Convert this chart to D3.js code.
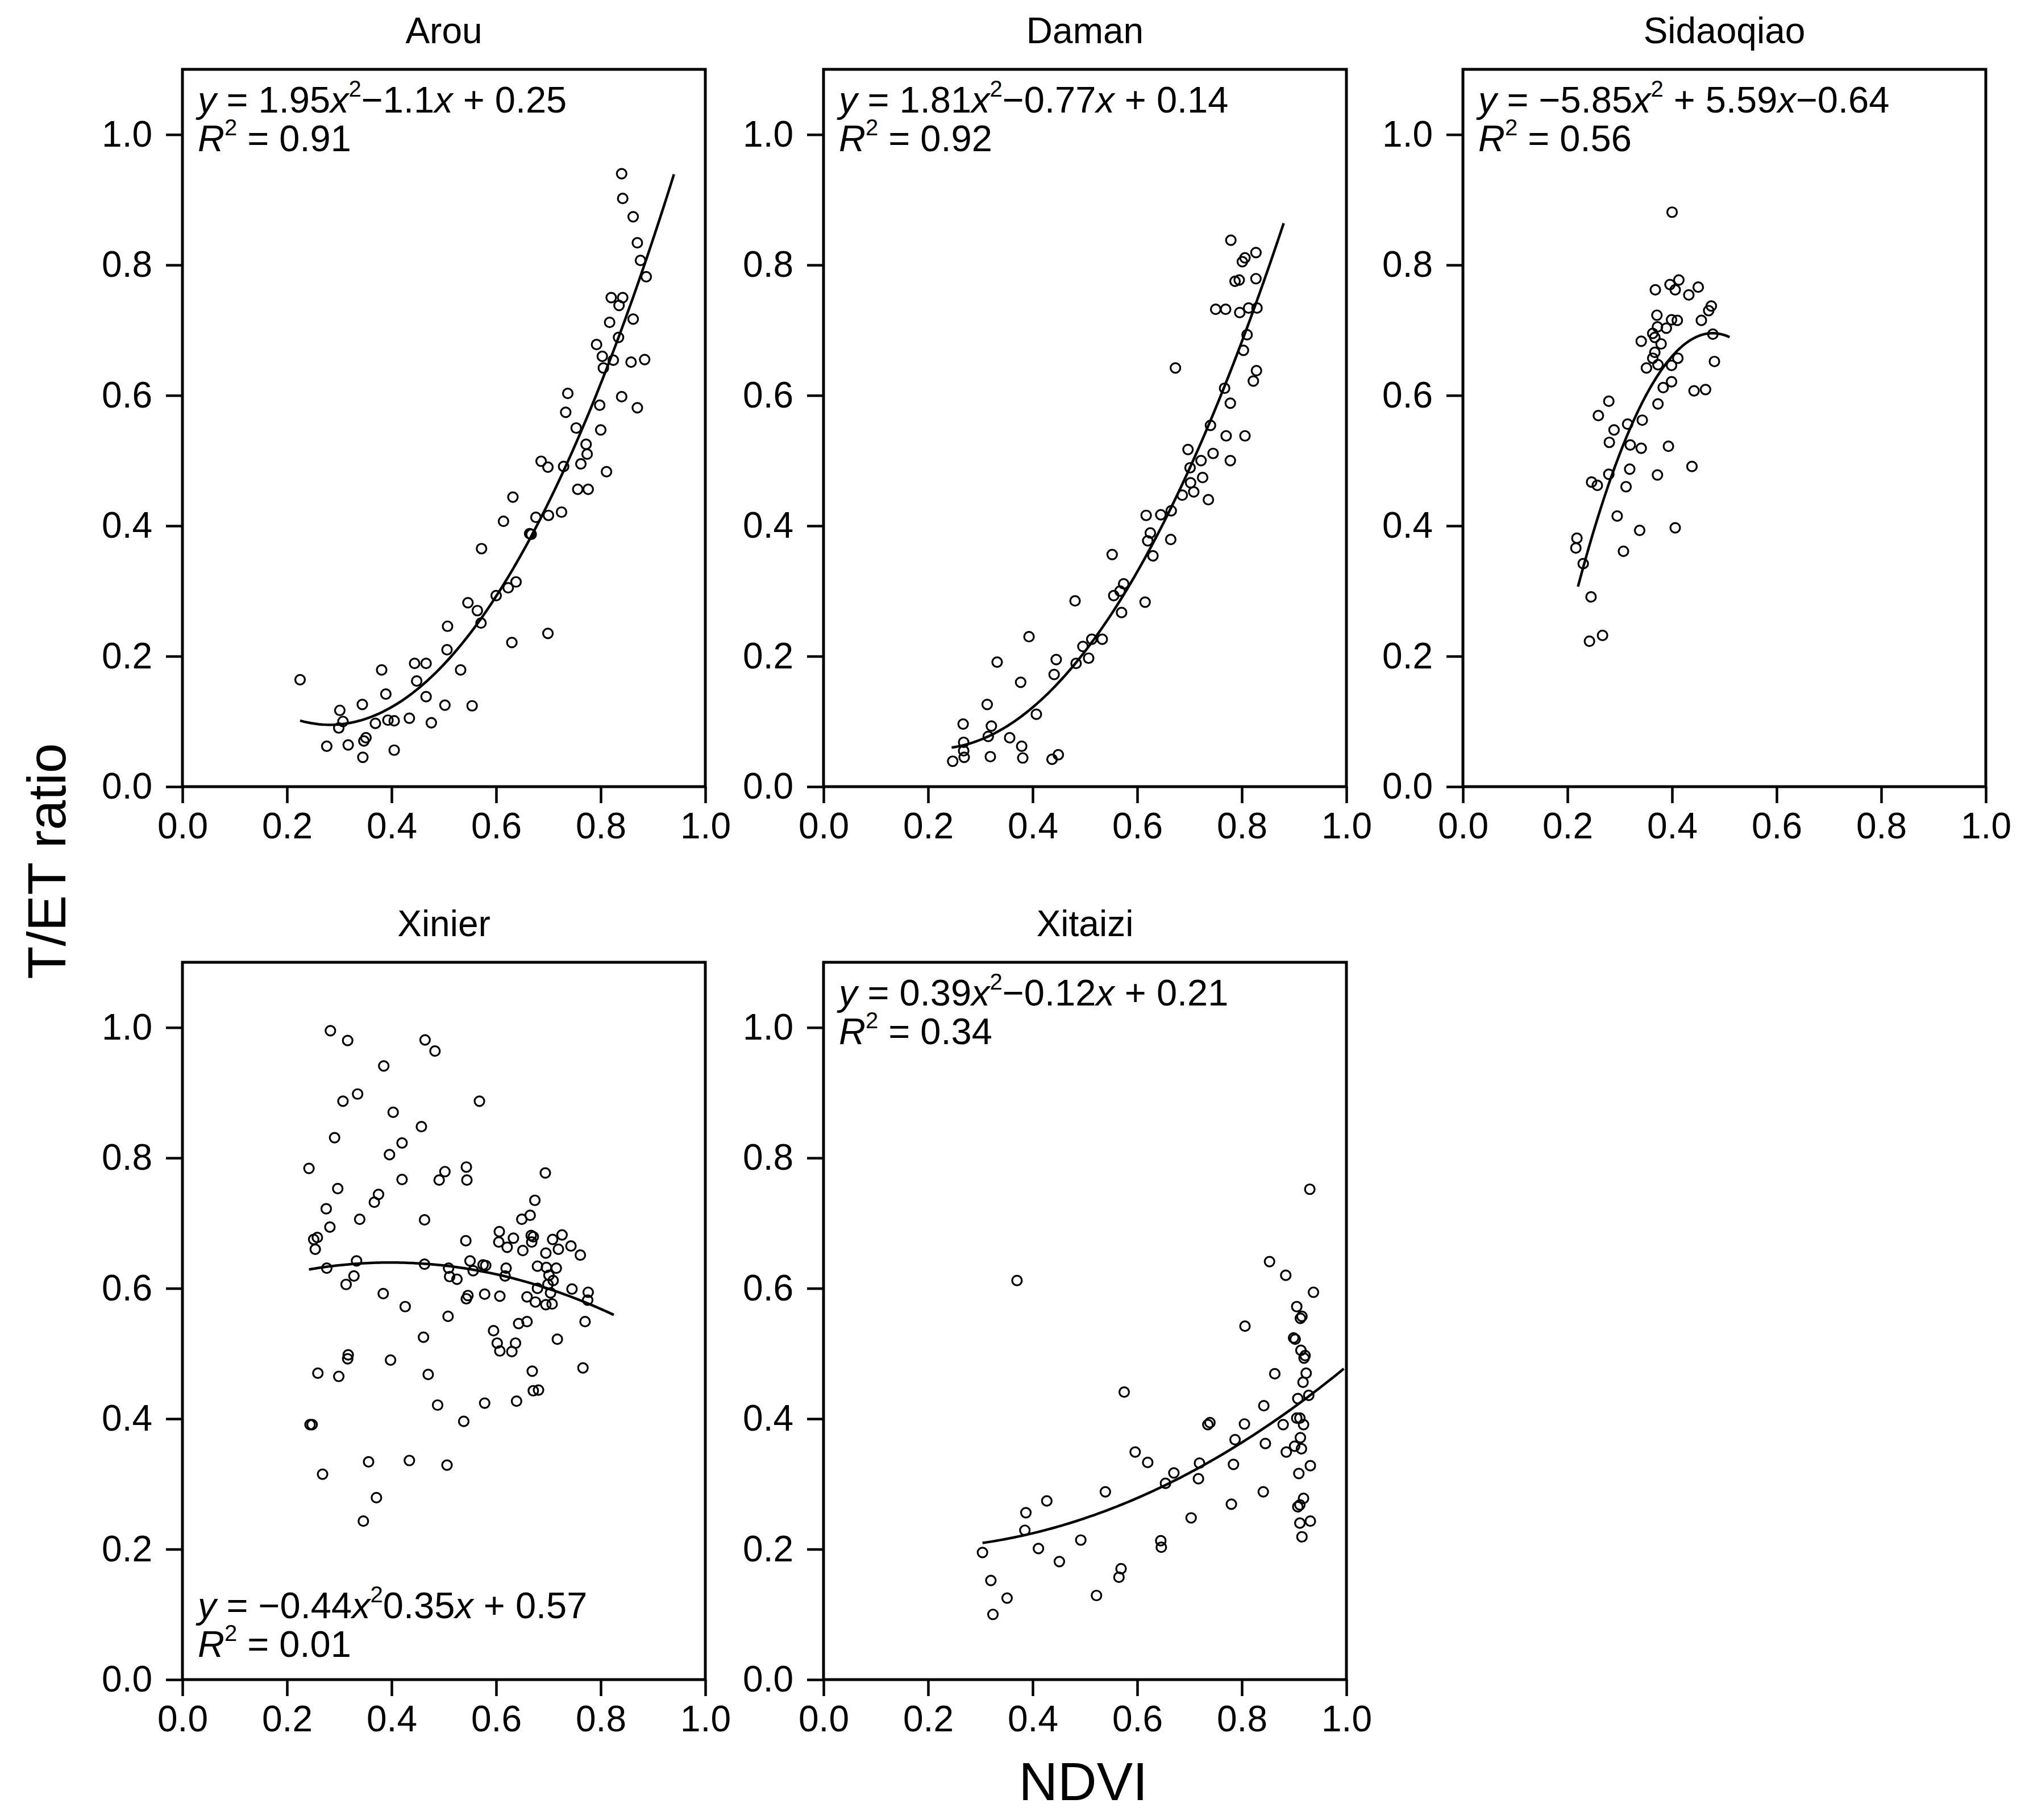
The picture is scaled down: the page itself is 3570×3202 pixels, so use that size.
<!DOCTYPE html>
<html>
<head>
<meta charset="utf-8">
<script src="https://cdn.jsdelivr.net/npm/d3@7"></script>
<style>
body { margin: 0; background: #fff; }
text { font-family: "Liberation Sans", Arial, sans-serif; fill: #000; }
</style>
</head>
<body>
<svg id="chart"></svg>
<script>
// values
const sites = ['Arou', 'Daman', 'Sidaoqiao', 'Xinier', 'Xitaizi'];
const xTicks = [0, 0.2, 0.4, 0.6, 0.8, 1.0];
const yTicks = [0, 0.2, 0.4, 0.6, 0.8, 1.0];

const arouNdvi = [0.840,0.842,0.862,0.870,0.876,0.887,0.820,0.842,0.835,0.862,
    0.817,0.834,0.792,0.803,0.824,0.805,0.858,0.884,0.840,0.870,
    0.798,0.737,0.733,0.800,0.753,0.772,0.774,0.762,0.686,0.699,
    0.729,0.811,0.756,0.776,0.632,0.614,0.676,0.700,0.725,0.664,
    0.667,0.572,0.638,0.623,0.600,0.546,0.564,0.571,0.699,0.630,
    0.507,0.506,0.532,0.444,0.466,0.448,0.381,0.389,0.466,0.225,
    0.344,0.502,0.554,0.301,0.307,0.299,0.369,0.393,0.405,0.434,
    0.476,0.276,0.317,0.351,0.347,0.345,0.405];
const arouRatio = [0.940,0.902,0.874,0.834,0.807,0.782,0.750,0.750,0.738,0.717,
    0.712,0.689,0.678,0.660,0.654,0.642,0.651,0.655,0.598,0.581,
    0.585,0.603,0.574,0.547,0.550,0.525,0.510,0.495,0.499,0.490,
    0.491,0.483,0.456,0.456,0.444,0.407,0.413,0.416,0.421,0.388,
    0.387,0.365,0.314,0.305,0.293,0.282,0.270,0.251,0.235,0.221,
    0.246,0.210,0.179,0.189,0.189,0.162,0.179,0.142,0.138,0.164,
    0.126,0.125,0.124,0.117,0.100,0.090,0.097,0.102,0.101,0.105,
    0.098,0.062,0.064,0.075,0.070,0.045,0.056];

const damanNdvi = [0.779,0.827,0.806,0.801,0.787,0.795,0.827,0.750,0.769,0.796,
    0.813,0.829,0.810,0.803,0.828,0.822,0.673,0.767,0.778,0.740,
    0.770,0.806,0.697,0.745,0.722,0.778,0.701,0.725,0.702,0.708,
    0.686,0.736,0.665,0.645,0.617,0.625,0.620,0.664,0.630,0.552,
    0.574,0.555,0.567,0.570,0.615,0.481,0.393,0.513,0.533,0.496,
    0.507,0.483,0.445,0.441,0.332,0.377,0.313,0.407,0.267,0.321,
    0.315,0.356,0.268,0.379,0.268,0.269,0.247,0.319,0.381,0.437,
    0.449];
const damanRatio = [0.838,0.819,0.811,0.805,0.775,0.777,0.779,0.732,0.732,0.727,
    0.734,0.734,0.693,0.669,0.638,0.622,0.642,0.611,0.588,0.554,
    0.538,0.538,0.517,0.511,0.500,0.500,0.489,0.474,0.466,0.452,
    0.447,0.440,0.423,0.417,0.416,0.389,0.377,0.379,0.354,0.356,
    0.311,0.293,0.300,0.267,0.283,0.285,0.230,0.226,0.226,0.215,
    0.197,0.189,0.195,0.172,0.191,0.160,0.126,0.111,0.096,0.093,
    0.077,0.075,0.068,0.062,0.055,0.045,0.039,0.046,0.044,0.042,
    0.049];

const sidaoqiaoNdvi = [0.400,0.368,0.396,0.413,0.406,0.432,0.450,0.475,0.470,0.456,
    0.371,0.399,0.410,0.389,0.372,0.363,0.367,0.341,0.379,0.367,
    0.363,0.411,0.373,0.399,0.351,0.478,0.481,0.399,0.383,0.442,
    0.464,0.373,0.279,0.259,0.289,0.343,0.315,0.280,0.320,0.341,
    0.393,0.319,0.279,0.372,0.438,0.246,0.257,0.312,0.295,0.338,
    0.406,0.218,0.216,0.230,0.307,0.245,0.242,0.267];
const sidaoqiaoRatio = [0.881,0.762,0.770,0.777,0.762,0.754,0.766,0.737,0.730,0.715,
    0.723,0.716,0.715,0.703,0.705,0.695,0.689,0.683,0.679,0.666,
    0.657,0.657,0.647,0.646,0.642,0.694,0.652,0.621,0.612,0.607,
    0.609,0.587,0.591,0.569,0.547,0.562,0.556,0.528,0.524,0.519,
    0.522,0.487,0.479,0.478,0.491,0.467,0.462,0.460,0.415,0.393,
    0.397,0.381,0.366,0.342,0.361,0.291,0.223,0.232];

const xinierNdvi = [0.283,0.316,0.464,0.483,0.385,0.335,0.307,0.568,0.403,0.457,
    0.291,0.420,0.396,0.242,0.543,0.502,0.544,0.491,0.420,0.694,
    0.297,0.375,0.367,0.674,0.275,0.339,0.463,0.649,0.665,0.282,
    0.606,0.633,0.667,0.671,0.726,0.708,0.743,0.719,0.668,0.605,
    0.621,0.651,0.695,0.761,0.251,0.258,0.254,0.542,0.333,0.276,
    0.463,0.550,0.575,0.580,0.509,0.619,0.679,0.696,0.715,0.556,
    0.617,0.511,0.525,0.328,0.313,0.701,0.709,0.699,0.679,0.745,
    0.776,0.775,0.704,0.659,0.675,0.695,0.707,0.384,0.546,0.543,
    0.578,0.607,0.426,0.508,0.643,0.659,0.770,0.595,0.461,0.717,
    0.602,0.637,0.607,0.630,0.317,0.316,0.398,0.259,0.299,0.470,
    0.669,0.766,0.671,0.681,0.488,0.578,0.639,0.538,0.244,0.248,
    0.356,0.434,0.506,0.268,0.371,0.346];
const xinierRatio = [0.995,0.980,0.981,0.964,0.941,0.898,0.887,0.887,0.870,0.848,
    0.831,0.823,0.805,0.784,0.786,0.779,0.766,0.766,0.767,0.777,
    0.753,0.744,0.732,0.735,0.722,0.706,0.705,0.706,0.712,0.694,
    0.687,0.677,0.681,0.679,0.682,0.675,0.665,0.660,0.671,0.671,
    0.663,0.658,0.654,0.651,0.675,0.678,0.660,0.673,0.642,0.631,
    0.637,0.642,0.636,0.635,0.631,0.631,0.634,0.632,0.631,0.627,
    0.619,0.618,0.614,0.619,0.606,0.620,0.612,0.606,0.600,0.599,
    0.594,0.582,0.593,0.587,0.579,0.575,0.576,0.592,0.589,0.584,
    0.591,0.588,0.572,0.557,0.546,0.549,0.549,0.535,0.525,0.522,
    0.516,0.516,0.504,0.503,0.498,0.492,0.490,0.470,0.465,0.468,
    0.473,0.478,0.443,0.444,0.421,0.424,0.427,0.396,0.391,0.391,
    0.334,0.336,0.329,0.315,0.279,0.243];

const xitaiziNdvi = [0.930,0.370,0.853,0.884,0.937,0.905,0.915,0.912,0.806,0.899,
    0.902,0.913,0.921,0.919,0.863,0.923,0.917,0.928,0.907,0.575,
    0.842,0.905,0.911,0.918,0.879,0.739,0.735,0.805,0.787,0.845,
    0.912,0.901,0.914,0.885,0.596,0.620,0.719,0.784,0.931,0.717,
    0.670,0.654,0.909,0.539,0.841,0.427,0.387,0.385,0.918,0.911,
    0.907,0.703,0.780,0.931,0.911,0.915,0.492,0.645,0.646,0.411,
    0.304,0.451,0.569,0.565,0.320,0.351,0.522,0.324];
const xitaiziRatio = [0.752,0.612,0.641,0.620,0.594,0.572,0.557,0.554,0.542,0.524,
    0.522,0.505,0.497,0.493,0.469,0.470,0.456,0.436,0.431,0.441,
    0.420,0.401,0.401,0.391,0.391,0.394,0.391,0.392,0.368,0.362,
    0.371,0.358,0.354,0.349,0.349,0.333,0.332,0.330,0.328,0.308,
    0.317,0.301,0.316,0.288,0.288,0.274,0.256,0.229,0.278,0.268,
    0.265,0.248,0.269,0.243,0.240,0.219,0.214,0.213,0.203,0.201,
    0.195,0.181,0.170,0.157,0.152,0.125,0.129,0.100];

// quadratic fits as printed on the figure: y = a x^2 + b x + c
const fitA = [1.95, 1.81, -5.85, -0.44, 0.39];
const fitB = [-1.1, -0.77, 5.59, 0.35, -0.12];
const fitC = [0.25, 0.14, -0.64, 0.57, 0.21];
const fitFrom = [0.225, 0.245, 0.22, 0.242, 0.304];
const fitTo = [0.94, 0.88, 0.51, 0.825, 0.995];

const eqLabels = ['y = 1.95x^2−1.1x + 0.25', 'y = 1.81x^2−0.77x + 0.14',
    'y = −5.85x^2 + 5.59x−0.64', 'y = −0.44x^20.35x + 0.57', 'y = 0.39x^2−0.12x + 0.21'];
const r2Labels = ['R^2 = 0.91', 'R^2 = 0.92', 'R^2 = 0.56', 'R^2 = 0.01', 'R^2 = 0.34'];
const eqAtBottom = [false, false, false, true, false];

const ndviData = [arouNdvi, damanNdvi, sidaoqiaoNdvi, xinierNdvi, xitaiziNdvi];
const ratioData = [arouRatio, damanRatio, sidaoqiaoRatio, xinierRatio, xitaiziRatio];

const W = 3570, H = 3202;
const colLeft = [321, 1449, 2574];
const rowTop = [122, 1693];
const pw = 920, ph = 1262;
const fontSize = 64;

const svg = d3.select('#chart').attr('width', W).attr('height', H)
    .style('background', '#fff');

// writes "x", "y", "R" in italics and "^2" as a superscript
function richText(sel, str) {
    let parts = [];
    for (let i = 0; i < str.length; i++) {
        const ch = str[i];
        if (ch === '^') {
            parts.push({t: str[i + 1], sup: true});
            i++;
        } else if (ch === 'x' || ch === 'y' || ch === 'R') {
            parts.push({t: ch, it: true});
        } else {
            const last = parts[parts.length - 1];
            if (last && !last.it && !last.sup) last.t += ch;
            else parts.push({t: ch});
        }
    }
    let raised = false;
    parts.forEach(function (p) {
        const ts = sel.append('tspan').text(p.t);
        if (p.it) ts.style('font-style', 'italic');
        if (p.sup) {
            ts.attr('dy', -28).style('font-size', '40px');
            raised = true;
        } else if (raised) {
            ts.attr('dy', 28);
            raised = false;
        }
    });
}

for (let i = 0; i < sites.length; i++) {
    const col = i < 3 ? i : i - 3;
    const row = i < 3 ? 0 : 1;
    const g = svg.append('g')
        .attr('transform', 'translate(' + colLeft[col] + ',' + rowTop[row] + ')');

    const x = d3.scaleLinear().domain([0, 1]).range([0, pw]);
    const y = d3.scaleLinear().domain([0, 1.1]).range([ph, 0]);

    g.append('g')
        .call(d3.axisLeft(y).tickValues(yTicks).tickFormat(d3.format('.1f'))
            .tickSize(29).tickPadding(24))
        .call(function (a) {
            a.select('.domain').remove();
            a.selectAll('.tick line').attr('stroke', '#000').attr('stroke-width', 4.5);
            a.selectAll('.tick text').style('font-size', fontSize + 'px')
                .style('font-family', '"Liberation Sans", Arial, sans-serif');
        });
    g.append('g')
        .attr('transform', 'translate(0,' + ph + ')')
        .call(d3.axisBottom(x).tickValues(xTicks).tickFormat(d3.format('.1f'))
            .tickSize(29).tickPadding(17))
        .call(function (a) {
            a.select('.domain').remove();
            a.selectAll('.tick line').attr('stroke', '#000').attr('stroke-width', 4.5);
            a.selectAll('.tick text').style('font-size', fontSize + 'px')
                .style('font-family', '"Liberation Sans", Arial, sans-serif');
        });

    g.append('rect')
        .attr('x', 0).attr('y', 0).attr('width', pw).attr('height', ph)
        .attr('fill', 'none').attr('stroke', '#000').attr('stroke-width', 5);

    // fitted curve
    const xs = d3.range(fitFrom[i], fitTo[i] + 0.0001, (fitTo[i] - fitFrom[i]) / 100);
    const line = d3.line()
        .x(function (d) { return x(d); })
        .y(function (d) { return y(fitA[i] * d * d + fitB[i] * d + fitC[i]); });
    g.append('path').datum(xs)
        .attr('d', line)
        .attr('fill', 'none').attr('stroke', '#000').attr('stroke-width', 4.5);

    g.selectAll('circle.pt')
        .data(ndviData[i])
        .enter().append('circle')
        .attr('class', 'pt')
        .attr('cx', function (d) { return x(d); })
        .attr('cy', function (d, j) { return y(ratioData[i][j]); })
        .attr('r', 8.5)
        .attr('fill', 'none').attr('stroke', '#000').attr('stroke-width', 3.2);

    g.append('text')
        .attr('x', pw / 2).attr('y', -46)
        .attr('text-anchor', 'middle')
        .style('font-size', fontSize + 'px')
        .text(sites[i]);

    const eqY = eqAtBottom[i] ? ph - 108 : 76;
    const eq = g.append('text').attr('x', 27).attr('y', eqY)
        .style('font-size', '65px').style('white-space', 'pre');
    richText(eq, eqLabels[i]);
    const r2 = g.append('text').attr('x', 27).attr('y', eqY + 68)
        .style('font-size', '65px').style('white-space', 'pre');
    richText(r2, r2Labels[i]);
}

svg.append('text')
    .attr('x', 1906).attr('y', 3167)
    .attr('text-anchor', 'middle')
    .style('font-size', '95px')
    .text('NDVI');

svg.append('text')
    .attr('transform', 'translate(115,1515) rotate(-90)')
    .attr('text-anchor', 'middle')
    .style('font-size', '95px')
    .text('T/ET ratio');
</script>
</body>
</html>
